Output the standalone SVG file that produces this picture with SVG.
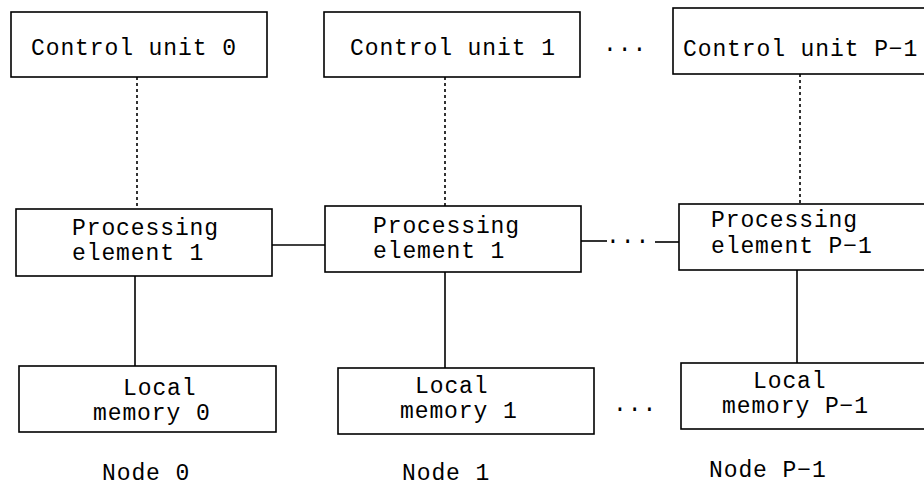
<svg xmlns="http://www.w3.org/2000/svg" width="924" height="486" viewBox="0 0 924 486">
<style>
.box{fill:#fff;stroke:#000;stroke-width:1.6}
.t{font-family:"Liberation Mono","Courier New",monospace;font-size:23px;letter-spacing:0.9px;fill:#000}
.dot{stroke:#000;stroke-width:1.6;stroke-dasharray:3,3;fill:none}
.ln{stroke:#000;stroke-width:1.6;fill:none}
</style>
<rect width="924" height="486" fill="#fff"/>
<g id="connectors">
<line class="dot" x1="137" y1="77" x2="137" y2="209"/>
<line class="dot" x1="445" y1="77" x2="445" y2="206"/>
<line class="dot" x1="800" y1="74" x2="800" y2="204"/>
<line class="ln" x1="135" y1="276" x2="135" y2="366"/>
<line class="ln" x1="445" y1="272" x2="445" y2="368"/>
<line class="ln" x1="797" y1="270" x2="797" y2="363"/>
<line class="ln" x1="272" y1="245" x2="325" y2="245"/>
<line class="ln" x1="581" y1="241" x2="607" y2="241"/>
<line class="ln" x1="655" y1="242" x2="679" y2="242"/>
</g>
<g id="cu0"><rect class="box" x="11" y="12" width="256" height="65"/><text class="t" x="31" y="55">Control unit 0</text></g>
<g id="cu1"><rect class="box" x="324" y="12" width="256" height="65"/><text class="t" x="350" y="55">Control unit 1</text></g>
<g id="cup"><rect class="box" x="673" y="8" width="256" height="66"/><text class="t" x="683" y="56">Control unit P−1</text></g>
<g id="pe0"><rect class="box" x="16" y="209" width="256" height="67"/><text class="t" x="72" y="235">Processing</text><text class="t" x="72" y="260">element 1</text></g>
<g id="pe1"><rect class="box" x="325" y="206" width="256" height="66"/><text class="t" x="373" y="233">Processing</text><text class="t" x="373" y="258">element 1</text></g>
<g id="pep"><rect class="box" x="679" y="204" width="256" height="66"/><text class="t" x="711" y="227">Processing</text><text class="t" x="711" y="253">element P−1</text></g>
<g id="lm0"><rect class="box" x="19" y="366" width="257" height="66"/><text class="t" x="123" y="395">Local</text><text class="t" x="93" y="420">memory 0</text></g>
<g id="lm1"><rect class="box" x="338" y="368" width="256" height="66"/><text class="t" x="415" y="393">Local</text><text class="t" x="400" y="418">memory 1</text></g>
<g id="lmp"><rect class="box" x="681" y="363" width="256" height="66"/><text class="t" x="753" y="388">Local</text><text class="t" x="722" y="413">memory P−1</text></g>
<g id="ellipses">
<text class="t" x="603" y="51">...</text>
<text class="t" x="606" y="243">...</text>
<text class="t" x="613" y="411">...</text>
</g>
<g id="labels">
<text class="t" x="102" y="480">Node 0</text>
<text class="t" x="402" y="480">Node 1</text>
<text class="t" x="709" y="477">Node P−1</text>
</g>
</svg>
